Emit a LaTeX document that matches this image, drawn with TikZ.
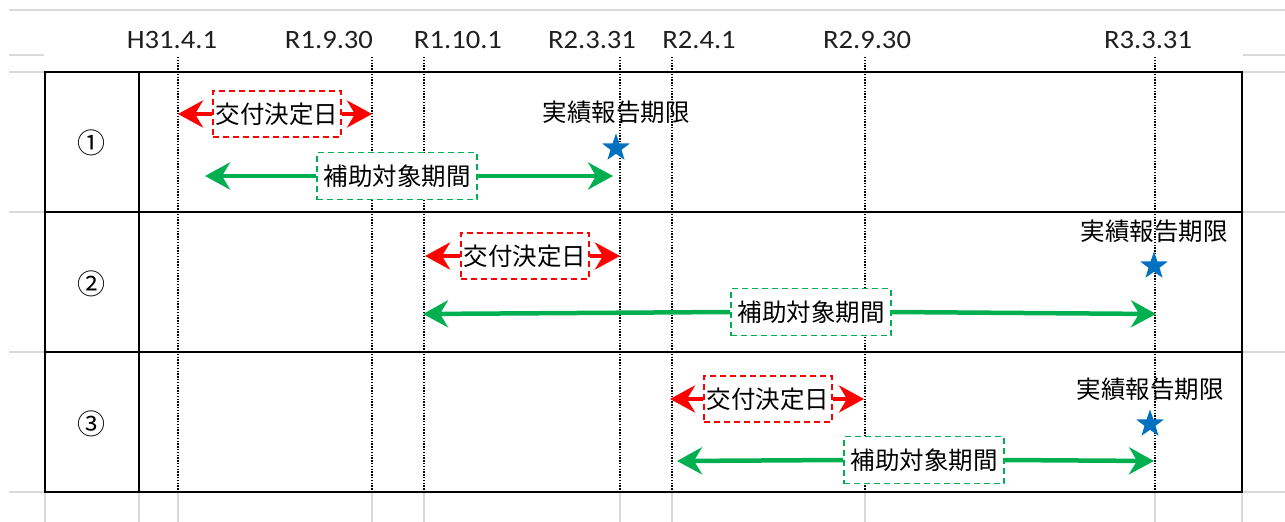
\documentclass[tikz,border=0pt]{standalone}
\usepackage{fontspec}
\setmainfont{Carlito}[FakeStretch=1.08]
\newfontfamily\jp{Noto Sans CJK JP}
\usetikzlibrary{arrows.meta,shapes.geometric}
\definecolor{xred}{HTML}{FF0000}
\definecolor{xgreen}{HTML}{00B050}
\definecolor{xblue}{HTML}{0070C0}
\definecolor{gridgray}{HTML}{D9D9D9}
\begin{document}
\begin{tikzpicture}[x=1pt,y=-1pt,
  gridline/.style={draw=gridgray, line width=1.8pt},
  tbl/.style={draw=black, line width=2pt},
  tickline/.style={draw=black, line width=1.3pt, dash pattern=on 1.4pt off 1.4pt},
  datelbl/.style={font=\fontsize{26.5}{30}\selectfont, text=black!88, anchor=base, inner sep=0pt},
  jptext/.style={font=\jp\fontsize{24.5}{28}\selectfont, inner sep=0pt},
  redbox/.style={jptext, draw=xred, line width=1.6pt, dash pattern=on 6pt off 4pt, fill=white,
    minimum width=128pt, minimum height=46pt},
  greenbox/.style={jptext, draw=xgreen, line width=1.6pt, dash pattern=on 6pt off 4pt, fill=white,
    minimum width=160pt, minimum height=47pt},
  rarrow/.style={draw=xred, line width=4.5pt, -{Stealth[length=25pt,width=27pt,inset=8pt]}},
  garrow/.style={draw=xgreen, line width=4.5pt, -{Stealth[length=25pt,width=27pt,inset=8pt]}},
  bluestar/.style={shape=star, star points=5, star point ratio=2.5, fill=xblue, draw=none,
    minimum size=29pt, inner sep=0pt},
  rownum/.style={font=\jp\fontsize{28}{30}\selectfont, inner sep=0pt}
]
\useasboundingbox (0,0) rectangle (1285,522);

% spreadsheet grid lines
\draw[gridline] (9,10) -- (1285,10);
\draw[gridline] (9,55) -- (44,55);
\draw[gridline] (1243,55) -- (1285,55);
\foreach \yy in {72,212,352,492} {
  \draw[gridline] (9,\yy) -- (45,\yy);
  \draw[gridline] (1242,\yy) -- (1285,\yy);
}
\foreach \xx in {45,139,1242} {
  \draw[gridline] (\xx,492) -- (\xx,522);
}

% tick coordinates and dotted lines
\foreach \n/\xx in {1/178,2/372,3/424,4/620,5/672,6/865,7/1155} {
  \coordinate (top\n) at (\xx,57);
  \coordinate (bot\n) at (\xx,492);
  \coordinate (end\n) at (\xx,522);
  \draw[gridline] (bot\n) -- (end\n);
  \draw[tickline] (top\n) -- (bot\n);
}

% header labels
\node[datelbl] (d1) at (172,48) {H31.4.1};
\node[datelbl] (d2) at (329,48) {R1.9.30};
\node[datelbl] (d3) at (458,48) {R1.10.1};
\node[datelbl] (d4) at (592,48) {R2.3.31};
\node[datelbl] (d5) at (699,48) {R2.4.1};
\node[datelbl] (d6) at (867,48) {R2.9.30};
\node[datelbl] (d7) at (1148,48) {R3.3.31};

% table
\draw[tbl] (45,72) rectangle (1242,492);
\draw[tbl] (139,72) -- (139,492);
\draw[tbl] (45,212) -- (1242,212);
\draw[tbl] (45,352) -- (1242,352);

% row numbers
\node[rownum] (n1) at (91,143) {①};
\node[rownum] (n2) at (91,284) {②};
\node[rownum] (n3) at (91,424) {③};

% row 1
\coordinate (r1a) at (178,114);
\coordinate (r1b) at (372,114);
\node[redbox] (rb1) at (277,114) {交付決定日};
\draw[rarrow] (rb1.west) -- (r1a);
\draw[rarrow] (rb1.east) -- (r1b);
\coordinate (g1a) at (205,176);
\coordinate (g1b) at (613,176);
\node[greenbox] (gb1) at (397,176) {補助対象期間};
\draw[garrow] (gb1.west) -- (g1a);
\draw[garrow] (gb1.east) -- (g1b);
\node[jptext] (k1) at (616,112) {実績報告期限};
\node[bluestar] (s1) at (616,148) {};

% row 2
\coordinate (r2a) at (425,256);
\coordinate (r2b) at (620,256);
\node[redbox] (rb2) at (525,256) {交付決定日};
\draw[rarrow] (rb2.west) -- (r2a);
\draw[rarrow] (rb2.east) -- (r2b);
\coordinate (g2a) at (423,314);
\coordinate (g2b) at (1156,314);
\node[greenbox] (gb2) at (811,312) {補助対象期間};
\draw[garrow] (gb2.west) -- (g2a);
\draw[garrow] (gb2.east) -- (g2b);
\node[jptext] (k2) at (1154,231) {実績報告期限};
\node[bluestar] (s2) at (1154,266) {};

% row 3
\coordinate (r3a) at (670,399);
\coordinate (r3b) at (864,399);
\node[redbox] (rb3) at (768,399) {交付決定日};
\draw[rarrow] (rb3.west) -- (r3a);
\draw[rarrow] (rb3.east) -- (r3b);
\coordinate (g3a) at (677,461);
\coordinate (g3b) at (1154,461);
\node[greenbox] (gb3) at (924,460) {補助対象期間};
\draw[garrow] (gb3.west) -- (g3a);
\draw[garrow] (gb3.east) -- (g3b);
\node[jptext] (k3) at (1150,389) {実績報告期限};
\node[bluestar] (s3) at (1150,424) {};
\end{tikzpicture}
\end{document}
